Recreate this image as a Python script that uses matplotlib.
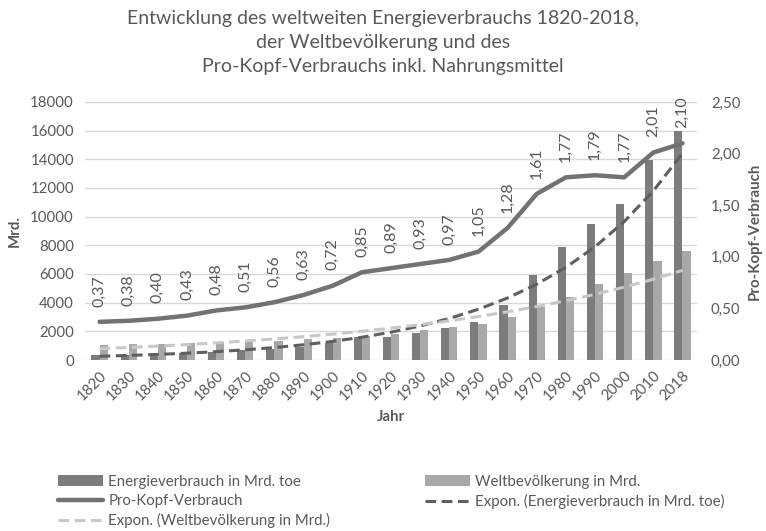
import numpy as np
import matplotlib
matplotlib.use('Agg')
import matplotlib.pyplot as plt
from matplotlib.ticker import FuncFormatter

plt.rcParams['font.family'] = ['Lato', 'DejaVu Sans']

# Daten
jahre = ['1820', '1830', '1840', '1850', '1860', '1870', '1880', '1890', '1900', '1910', '1920',
         '1930', '1940', '1950', '1960', '1970', '1980', '1990', '2000', '2010', '2018']
energie = [350, 370, 440, 510, 580, 700, 765, 925, 1160, 1575, 1620,
           1900, 2200, 2620, 3870, 5900, 7875, 9500, 10850, 13970, 15980]
bevoelkerung = [1040, 1090, 1090, 1160, 1230, 1270, 1340, 1440, 1550, 1670, 1830,
                2060, 2270, 2480, 2970, 3700, 4400, 5280, 6095, 6900, 7575]
pro_kopf = [0.37, 0.38, 0.40, 0.43, 0.48, 0.51, 0.56, 0.63, 0.72, 0.85, 0.89,
            0.93, 0.97, 1.05, 1.28, 1.61, 1.77, 1.79, 1.77, 2.01, 2.10]

c_dunkel = '#7c7c7c'
c_hell = '#a8a8a8'
c_linie = '#727272'
c_text = '#595959'
fs = 10.8

x = np.arange(len(jahre))
# exponentielle Trendlinien wie in Excel (x = 1..n)
def expon(y):
    xs = np.arange(1, len(y) + 1)
    b, ln_a = np.polyfit(xs, np.log(y), 1)
    return np.exp(ln_a) * np.exp(b * xs)

fig = plt.figure(figsize=(7.66, 5.31), dpi=100)
ax = fig.add_axes([0.111, 0.322, 0.799, 0.486])
ax2 = ax.twinx()

w = 0.28
b1 = ax.bar(x - w / 2, energie, w, color=c_dunkel, label='Energieverbrauch in Mrd. toe', zorder=2)
b2 = ax.bar(x + w / 2, bevoelkerung, w, color=c_hell, label='Weltbevölkerung in Mrd.', zorder=2)
t1, = ax.plot(x, expon(energie), color='#5f5f5f', lw=2.2, ls=(0, (3.5, 1.8)),
              label='Expon. (Energieverbrauch in Mrd. toe)', zorder=3)
t2, = ax.plot(x, expon(bevoelkerung), color='#c8c8c8', lw=2.2, ls=(0, (3.5, 1.8)),
              label='Expon. (Weltbevölkerung in Mrd.)', zorder=3)
l1, = ax2.plot(x, pro_kopf, color=c_linie, lw=3.2, label='Pro-Kopf-Verbrauch', solid_capstyle='round')

for xi, v in zip(x, pro_kopf):
    ax2.annotate('{:.2f}'.format(v).replace('.', ','), (xi, v), xytext=(0, 11),
                 textcoords='offset points', rotation=90, ha='center', va='bottom',
                 fontsize=11.5, color=c_text)

ax.set_xlim(-0.5, len(jahre) - 0.5)
ax.set_ylim(0, 18000)
ax.set_yticks(range(0, 18001, 2000))
ax2.set_ylim(0, 2.5)
ax2.set_yticks(np.arange(0, 2.51, 0.5))
ax2.yaxis.set_major_formatter(FuncFormatter(lambda v, p: '{:.2f}'.format(v).replace('.', ',')))

ax.set_xticks(x)
ax.set_xticklabels(jahre, rotation=45, ha='right', rotation_mode='anchor')
ax.grid(axis='y', color='#d9d9d9', lw=1, zorder=0)
ax.set_axisbelow(True)
for a in (ax, ax2):
    for s in a.spines.values():
        s.set_visible(False)
    a.tick_params(length=0, labelsize=fs, colors=c_text)
ax.tick_params(axis='x', pad=6)
ax.tick_params(axis='y', pad=8)
ax2.tick_params(axis='y', pad=10)

ax.set_xlabel('Jahr', fontsize=fs, fontweight='bold', color=c_text, labelpad=5)
ax.set_ylabel('Mrd.', fontsize=fs, fontweight='bold', color=c_text, labelpad=6)
ax2.set_ylabel('Pro-Kopf-Verbrauch', fontsize=fs, fontweight='bold', color=c_text, labelpad=5)

fig.text(0.5, 0.982, 'Entwicklung des weltweiten Energieverbrauchs 1820-2018,\n'
         'der Weltbevölkerung und des\nPro-Kopf-Verbrauchs inkl. Nahrungsmittel',
         ha='center', va='top', fontsize=14, color=c_text, linespacing=1.5)

handles = [b1, l1, t2, b2, t1]
fig.legend(handles, [h.get_label() for h in handles],
           ncol=2, loc='upper left', bbox_to_anchor=(0.058, 0.131),
           frameon=False, fontsize=fs, handlelength=3.0, handletextpad=0.35,
           labelspacing=0.33, columnspacing=6.3, labelcolor=c_text)

fig.savefig('out.png', dpi=100)
